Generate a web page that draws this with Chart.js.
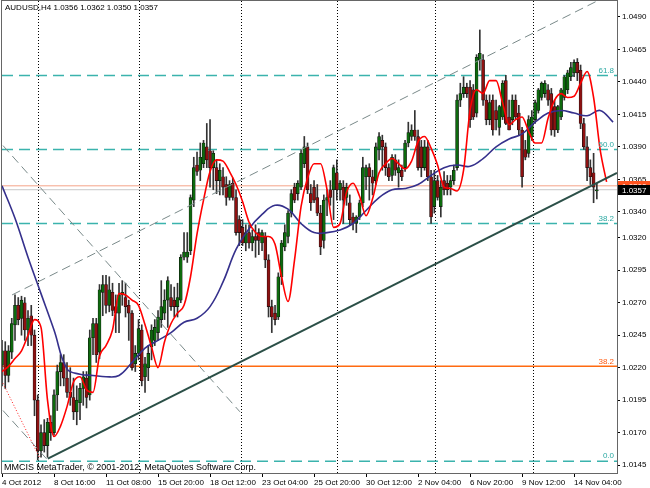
<!DOCTYPE html>
<html>
<head>
<meta charset="utf-8">
<title>AUDUSD,H4</title>
<script src="https://cdn.jsdelivr.net/npm/chart.js@4.4.1/dist/chart.umd.min.js"></script>
<style>
  html, body { margin: 0; padding: 0; background: #fff; }
  canvas { display: block; }
</style>
</head>
<body>
<canvas id="chart" width="650" height="488"></canvas>
<script>
// AUDUSD H4 bars, bar 0 = 4 Oct 2012 00:00, one value per bar
const opens = [
  1.0222, 1.0233, 1.0214, 1.0232, 1.0253, 1.0268, 1.0258, 1.0270, 1.0249, 1.0260,
  1.0245, 1.0195, 1.0156, 1.0170, 1.0160, 1.0178, 1.0170, 1.0199, 1.0217, 1.0224,
  1.0212, 1.0201, 1.0197, 1.0186, 1.0193, 1.0204, 1.0212, 1.0199, 1.0243, 1.0254,
  1.0232, 1.0278, 1.0284, 1.0268, 1.0278, 1.0267, 1.0262, 1.0276, 1.0274, 1.0268,
  1.0262, 1.0223, 1.0231, 1.0249, 1.0213, 1.0220, 1.0236, 1.0241, 1.0247, 1.0257,
  1.0262, 1.0272, 1.0274, 1.0272, 1.0267, 1.0272, 1.0305, 1.0305, 1.0310, 1.0349,
  1.0376, 1.0372, 1.0377, 1.0390, 1.0387, 1.0374, 1.0374, 1.0364, 1.0367, 1.0361,
  1.0351, 1.0362, 1.0351, 1.0334, 1.0328, 1.0316, 1.0324, 1.0316, 1.0321, 1.0324,
  1.0316, 1.0321, 1.0303, 1.0267, 1.0262, 1.0259, 1.0290, 1.0313, 1.0321, 1.0339,
  1.0359, 1.0354, 1.0359, 1.0377, 1.0390, 1.0354, 1.0359, 1.0351, 1.0339, 1.0318,
  1.0349, 1.0357, 1.0357, 1.0370, 1.0357, 1.0359, 1.0351, 1.0347, 1.0336, 1.0331,
  1.0336, 1.0347, 1.0367, 1.0374, 1.0367, 1.0364, 1.0388, 1.0395, 1.0390, 1.0374,
  1.0368, 1.0380, 1.0370, 1.0372, 1.0374, 1.0393, 1.0398, 1.0403, 1.0398, 1.0390,
  1.0374, 1.0390, 1.0367, 1.0344, 1.0364, 1.0344, 1.0364, 1.0362, 1.0359, 1.0364,
  1.0374, 1.0426, 1.0431, 1.0436, 1.0436, 1.0434, 1.0416, 1.0457, 1.0457, 1.0426,
  1.0411, 1.0426, 1.0418, 1.0405, 1.0413, 1.0441, 1.0413, 1.0411, 1.0426, 1.0416,
  1.0403, 1.0388, 1.0385, 1.0398, 1.0411, 1.0418, 1.0428, 1.0431, 1.0434, 1.0431,
  1.0421, 1.0403, 1.0413, 1.0428, 1.0434, 1.0444, 1.0447, 1.0455, 1.0449, 1.0408,
  1.0390, 1.0374, 1.0370, 1.0356
];
const highs = [
  1.0241, 1.0240, 1.0237, 1.0258, 1.0276, 1.0274, 1.0275, 1.0274, 1.0264, 1.0268,
  1.0249, 1.0199, 1.0176, 1.0180, 1.0181, 1.0183, 1.0203, 1.0222, 1.0230, 1.0230,
  1.0224, 1.0220, 1.0212, 1.0206, 1.0208, 1.0217, 1.0217, 1.0249, 1.0258, 1.0258,
  1.0284, 1.0291, 1.0291, 1.0290, 1.0285, 1.0276, 1.0285, 1.0287, 1.0285, 1.0272,
  1.0264, 1.0237, 1.0257, 1.0253, 1.0228, 1.0237, 1.0253, 1.0257, 1.0264, 1.0287,
  1.0280, 1.0290, 1.0284, 1.0282, 1.0285, 1.0307, 1.0324, 1.0324, 1.0353, 1.0382,
  1.0386, 1.0393, 1.0395, 1.0408, 1.0411, 1.0387, 1.0380, 1.0377, 1.0374, 1.0367,
  1.0364, 1.0366, 1.0357, 1.0337, 1.0334, 1.0330, 1.0330, 1.0326, 1.0330, 1.0327,
  1.0326, 1.0324, 1.0307, 1.0272, 1.0268, 1.0293, 1.0318, 1.0330, 1.0341, 1.0357,
  1.0362, 1.0364, 1.0388, 1.0398, 1.0393, 1.0361, 1.0364, 1.0361, 1.0345, 1.0353,
  1.0357, 1.0364, 1.0376, 1.0380, 1.0364, 1.0364, 1.0362, 1.0353, 1.0339, 1.0337,
  1.0349, 1.0382, 1.0376, 1.0377, 1.0372, 1.0393, 1.0401, 1.0399, 1.0393, 1.0377,
  1.0384, 1.0384, 1.0380, 1.0376, 1.0395, 1.0409, 1.0407, 1.0418, 1.0403, 1.0395,
  1.0395, 1.0395, 1.0372, 1.0372, 1.0368, 1.0364, 1.0371, 1.0368, 1.0368, 1.0376,
  1.0430, 1.0439, 1.0444, 1.0439, 1.0441, 1.0438, 1.0461, 1.0480, 1.0461, 1.0430,
  1.0430, 1.0430, 1.0426, 1.0422, 1.0441, 1.0445, 1.0426, 1.0430, 1.0430, 1.0422,
  1.0405, 1.0395, 1.0414, 1.0418, 1.0426, 1.0435, 1.0440, 1.0441, 1.0438, 1.0435,
  1.0426, 1.0422, 1.0435, 1.0445, 1.0449, 1.0455, 1.0457, 1.0458, 1.0453, 1.0412,
  1.0398, 1.0380, 1.0385, 1.0362
];
const lows = [
  1.0206, 1.0204, 1.0209, 1.0227, 1.0241, 1.0253, 1.0245, 1.0241, 1.0237, 1.0237,
  1.0183, 1.0149, 1.0151, 1.0155, 1.0151, 1.0164, 1.0168, 1.0187, 1.0206, 1.0206,
  1.0197, 1.0191, 1.0180, 1.0176, 1.0180, 1.0191, 1.0189, 1.0195, 1.0230, 1.0224,
  1.0227, 1.0260, 1.0262, 1.0263, 1.0260, 1.0247, 1.0247, 1.0268, 1.0259, 1.0241,
  1.0218, 1.0217, 1.0226, 1.0206, 1.0201, 1.0210, 1.0226, 1.0237, 1.0241, 1.0251,
  1.0257, 1.0251, 1.0264, 1.0259, 1.0259, 1.0270, 1.0303, 1.0301, 1.0307, 1.0344,
  1.0368, 1.0364, 1.0374, 1.0374, 1.0359, 1.0357, 1.0354, 1.0353, 1.0353, 1.0345,
  1.0349, 1.0349, 1.0322, 1.0314, 1.0314, 1.0310, 1.0312, 1.0310, 1.0305, 1.0307,
  1.0310, 1.0297, 1.0259, 1.0247, 1.0253, 1.0257, 1.0284, 1.0310, 1.0316, 1.0336,
  1.0347, 1.0349, 1.0357, 1.0374, 1.0354, 1.0341, 1.0347, 1.0337, 1.0307, 1.0312,
  1.0337, 1.0345, 1.0334, 1.0349, 1.0349, 1.0331, 1.0345, 1.0330, 1.0326, 1.0324,
  1.0334, 1.0344, 1.0357, 1.0349, 1.0353, 1.0361, 1.0380, 1.0372, 1.0368, 1.0364,
  1.0364, 1.0368, 1.0359, 1.0364, 1.0371, 1.0390, 1.0395, 1.0395, 1.0372, 1.0367,
  1.0372, 1.0364, 1.0331, 1.0339, 1.0349, 1.0336, 1.0353, 1.0353, 1.0353, 1.0361,
  1.0372, 1.0421, 1.0428, 1.0428, 1.0405, 1.0411, 1.0413, 1.0449, 1.0422, 1.0407,
  1.0407, 1.0399, 1.0403, 1.0399, 1.0411, 1.0407, 1.0403, 1.0407, 1.0411, 1.0399,
  1.0359, 1.0380, 1.0382, 1.0395, 1.0408, 1.0416, 1.0426, 1.0428, 1.0422, 1.0399,
  1.0398, 1.0401, 1.0411, 1.0426, 1.0431, 1.0441, 1.0444, 1.0441, 1.0404, 1.0388,
  1.0364, 1.0361, 1.0347, 1.0350
];
const closes = [
  1.0233, 1.0214, 1.0233, 1.0254, 1.0268, 1.0257, 1.0272, 1.0249, 1.0258, 1.0245,
  1.0195, 1.0156, 1.0170, 1.0160, 1.0178, 1.0170, 1.0199, 1.0217, 1.0224, 1.0212,
  1.0201, 1.0197, 1.0186, 1.0195, 1.0204, 1.0213, 1.0197, 1.0243, 1.0254, 1.0230,
  1.0280, 1.0284, 1.0268, 1.0280, 1.0264, 1.0262, 1.0276, 1.0278, 1.0267, 1.0262,
  1.0220, 1.0231, 1.0250, 1.0210, 1.0223, 1.0231, 1.0249, 1.0251, 1.0259, 1.0267,
  1.0272, 1.0287, 1.0267, 1.0267, 1.0274, 1.0305, 1.0309, 1.0309, 1.0351, 1.0374,
  1.0371, 1.0382, 1.0393, 1.0380, 1.0374, 1.0385, 1.0364, 1.0372, 1.0359, 1.0351,
  1.0361, 1.0351, 1.0324, 1.0324, 1.0316, 1.0324, 1.0316, 1.0321, 1.0318, 1.0318,
  1.0324, 1.0303, 1.0267, 1.0259, 1.0257, 1.0290, 1.0316, 1.0324, 1.0339, 1.0354,
  1.0349, 1.0362, 1.0385, 1.0390, 1.0357, 1.0347, 1.0349, 1.0339, 1.0313, 1.0349,
  1.0351, 1.0351, 1.0374, 1.0357, 1.0362, 1.0349, 1.0359, 1.0334, 1.0331, 1.0336,
  1.0347, 1.0374, 1.0374, 1.0367, 1.0362, 1.0390, 1.0398, 1.0390, 1.0374, 1.0367,
  1.0382, 1.0372, 1.0374, 1.0367, 1.0393, 1.0401, 1.0403, 1.0398, 1.0374, 1.0374,
  1.0390, 1.0367, 1.0336, 1.0364, 1.0351, 1.0359, 1.0357, 1.0357, 1.0364, 1.0372,
  1.0426, 1.0431, 1.0436, 1.0431, 1.0411, 1.0413, 1.0459, 1.0462, 1.0426, 1.0411,
  1.0424, 1.0403, 1.0411, 1.0421, 1.0439, 1.0408, 1.0403, 1.0426, 1.0413, 1.0403,
  1.0367, 1.0382, 1.0411, 1.0413, 1.0424, 1.0434, 1.0439, 1.0439, 1.0426, 1.0403,
  1.0403, 1.0421, 1.0434, 1.0444, 1.0447, 1.0451, 1.0455, 1.0447, 1.0408, 1.0390,
  1.0374, 1.0367, 1.0359, 1.0357
];

// fast MA (red), read every 2 bars from bar 0; slow MA (blue), every 4 bars
const fastMa = [
  1.0217, 1.0221, 1.0227, 1.0233, 1.0245, 1.0257, 1.0251, 1.0195, 1.0167, 1.0175,
  1.0190, 1.0209, 1.0213, 1.0203, 1.0201, 1.0229, 1.0237, 1.0249, 1.0277, 1.0276,
  1.0272, 1.0268, 1.0253, 1.0236, 1.0220, 1.0240, 1.0254, 1.0262, 1.0268, 1.0290,
  1.0323, 1.0349, 1.0371, 1.0380, 1.0379, 1.0371, 1.0361, 1.0348, 1.0332, 1.0324,
  1.0321, 1.0321, 1.0315, 1.0290, 1.0271, 1.0303, 1.0344, 1.0366, 1.0377, 1.0377,
  1.0357, 1.0328, 1.0331, 1.0355, 1.0362, 1.0352, 1.0337, 1.0350, 1.0370, 1.0377,
  1.0381, 1.0377, 1.0373, 1.0379, 1.0394, 1.0398, 1.0389, 1.0376, 1.0359, 1.0358,
  1.0356, 1.0372, 1.0418, 1.0434, 1.0431, 1.0441, 1.0441, 1.0424, 1.0407, 1.0411,
  1.0413, 1.0402, 1.0393, 1.0393, 1.0412, 1.0426, 1.0431, 1.0428, 1.0429, 1.0439,
  1.0448, 1.0428, 1.0388, 1.0363
];
const slowMa = [
  1.0360, 1.0335, 1.0305, 1.0277, 1.0249, 1.0219, 1.0215, 1.0214, 1.0213, 1.0214,
  1.0224, 1.0235, 1.0241, 1.0247, 1.0255, 1.0258, 1.0267, 1.0286, 1.0311, 1.0327,
  1.0338, 1.0345, 1.0342, 1.0331, 1.0324, 1.0324, 1.0326, 1.0331, 1.0341, 1.0351,
  1.0357, 1.0358, 1.0361, 1.0368, 1.0374, 1.0376, 1.0375, 1.0381, 1.0390, 1.0396,
  1.0400, 1.0409, 1.0416, 1.0418, 1.0416, 1.0414, 1.0418, 1.0409
];

const xTickBars = [0, 16, 32, 48, 64, 80, 96, 112, 128, 144, 160, 176];
const xTickLabels = ['4 Oct 2012', '8 Oct 16:00', '11 Oct 08:00', '15 Oct 20:00', '18 Oct 12:00', '23 Oct 04:00',
  '25 Oct 20:00', '30 Oct 12:00', '2 Nov 04:00', '6 Nov 20:00', '9 Nov 12:00', '14 Nov 04:00'];
const yTickValues = [1.0490, 1.0465, 1.0440, 1.0415, 1.0390, 1.0365, 1.0340, 1.0320, 1.0295,
  1.0270, 1.0245, 1.0220, 1.0195, 1.0170, 1.0145];

// period separators, in bars
const separators = [11.1, 42.2, 73.5, 103.1, 133.2, 163.4];

// fibo levels and horizontal lines
const fiboLevels = [1.0148, 1.0331, 1.0388, 1.0445];
const fiboNames = ['0.0', '38.2', '50.0', '61.8'];
const orangeLevel = 1.0221;
const orangeName = '38.2';
const hLinePrice = 1.0360;
const bidPrice = 1.0357;

// trend lines as [bar, price] end points
const trendLine = [[14.1, 1.0150], [189.2, 1.0370]];
const channelLine = [[3.1, 1.0276], [189.2, 1.0510]];
const fallLine = [[0.3, 1.0391], [73.2, 1.0186]];
const fallLine2 = [[0.3, 1.0187], [14, 1.0149]];
const redDotLine = [[0.3, 1.0208], [11.7, 1.0150]];

const X_MAX = 189.2;
const FONT = 'Liberation Sans, Arial, sans-serif';

const bars = opens.map((o, i) => i);
const bodyColors = bars.map(i => closes[i] >= opens[i] ? '#0d6a0d' : '#8e1111');

function pts(arr) { return arr.map(p => ({x: p[0], y: p[1]})); }
function level(v) { return [{x: 0, y: v}, {x: X_MAX, y: v}]; }
function lineSet(data, color, width, dash, order) {
  return {type: 'line', data: data, borderColor: color, borderWidth: width, borderDash: dash,
    pointRadius: 0, fill: false, order: order};
}

const datasets = [
  {type: 'bar', data: bars.map(i => ({x: i, y: [lows[i], highs[i]]})), backgroundColor: '#333',
    barThickness: 1, grouped: false, order: 6},
  {type: 'bar', data: bars.map(i => ({x: i, y: [opens[i], closes[i]]})), backgroundColor: bodyColors,
    borderColor: '#111', borderWidth: 0.6, borderSkipped: false, barThickness: 3, grouped: false, order: 5},
  Object.assign(lineSet(slowMa.map((v, k) => ({x: k * 4, y: v})), '#35308c', 1.6, [], 3), {tension: 0.4}),
  Object.assign(lineSet(fastMa.map((v, k) => ({x: k * 2, y: v})), '#ff0000', 1.6, [], 2), {cubicInterpolationMode: 'monotone'}),
  lineSet(pts(trendLine), '#2b4f47', 2, [], 1),
  lineSet(pts(channelLine), '#7a8a8a', 1, [9, 5], 1),
  lineSet(pts(fallLine), '#7a8a8a', 1, [9, 5], 1),
  lineSet(pts(fallLine2), '#7a8a8a', 1, [9, 5], 1),
  lineSet(pts(redDotLine), '#ff2020', 1, [1, 2], 1),
  lineSet(level(orangeLevel), '#ff6a10', 1.5, [], 7),
  lineSet(level(hLinePrice), '#f5a488', 1, [], 7),
  lineSet(level(bidPrice), '#c8c8c8', 1, [], 8)
];
fiboLevels.forEach(v => datasets.push(lineSet(level(v), '#3bb3ad', 1.5, [11, 6], 7)));

const terminalPlugin = {
  id: 'terminal',
  beforeDraw(chart) {
    const ctx = chart.ctx;
    ctx.save();
    ctx.fillStyle = '#fff';
    ctx.fillRect(0, 0, chart.width, chart.height);
    ctx.restore();
  },
  beforeDatasetsDraw(chart) {
    const ctx = chart.ctx, a = chart.chartArea, xs = chart.scales.x;
    ctx.save();
    ctx.strokeStyle = '#000';
    ctx.lineWidth = 1;
    ctx.setLineDash([1, 2]);
    separators.forEach(b => {
      const x = Math.round(xs.getPixelForValue(b)) + 0.5;
      ctx.beginPath();
      ctx.moveTo(x, a.top);
      ctx.lineTo(x, a.bottom);
      ctx.stroke();
    });
    ctx.restore();
  },
  afterDatasetsDraw(chart) {
    const ctx = chart.ctx, a = chart.chartArea, ys = chart.scales.y;
    ctx.save();
    ctx.font = '8px ' + FONT;
    ctx.textAlign = 'right';
    ctx.textBaseline = 'bottom';
    ctx.fillStyle = '#2aa8a2';
    fiboLevels.forEach((v, i) => ctx.fillText(fiboNames[i], a.right - 3, ys.getPixelForValue(v) - 1));
    ctx.fillStyle = '#ff5a10';
    ctx.fillText(orangeName, a.right - 3, ys.getPixelForValue(orangeLevel) - 1);
    ctx.restore();
  },
  afterDraw(chart) {
    const ctx = chart.ctx, a = chart.chartArea, ys = chart.scales.y;
    ctx.save();
    // frame
    ctx.strokeStyle = '#666';
    ctx.lineWidth = 1;
    ctx.strokeRect(a.left - 0.5, a.top - 0.5, a.right - a.left + 1, a.bottom - a.top + 1);
    // price boxes on the scale
    ctx.font = '8px ' + FONT;
    ctx.textBaseline = 'middle';
    ctx.textAlign = 'left';
    const boxes = [[hLinePrice, '#ff5420'], [bidPrice, '#000']];
    boxes.forEach(b => {
      const y = Math.round(ys.getPixelForValue(b[0]));
      ctx.fillStyle = b[1];
      ctx.fillRect(a.right + 1, y - 5, chart.width - a.right - 1, 10);
      ctx.fillStyle = '#fff';
      ctx.fillText(b[0].toFixed(4), a.right + 5, y + 0.5);
    });
    // texts
    ctx.fillStyle = '#000';
    ctx.font = '8px ' + FONT;
    ctx.fillText('AUDUSD,H4 1.0356 1.0362 1.0350 1.0357', a.left + 3, 8);
    ctx.font = '9px ' + FONT;
    ctx.fillText('MMCIS MetaTrader, \u00a9 2001-2012, MetaQuotes Software Corp.', a.left + 2, a.bottom - 5);
    ctx.restore();
  }
};

Chart.defaults.font.family = FONT;
Chart.defaults.font.size = 8;
Chart.defaults.color = '#000';

new Chart(document.getElementById('chart'), {
  type: 'bar',
  data: {datasets: datasets},
  options: {
    responsive: false,
    animation: false,
    events: [],
    layout: {padding: {left: 2, top: 1, right: 0, bottom: 0}},
    plugins: {legend: {display: false}, tooltip: {enabled: false}},
    scales: {
      x: {
        type: 'linear',
        min: 0,
        max: X_MAX,
        offset: false,
        grid: {display: true, drawOnChartArea: false, drawTicks: true, tickLength: 4, color: '#000', offset: false},
        border: {display: true, color: '#444'},
        ticks: {
          align: 'start', maxRotation: 0, autoSkip: false, padding: 1,
          callback: (v, i) => xTickLabels[i]
        },
        afterBuildTicks: axis => { axis.ticks = xTickBars.map(v => ({value: v})); },
        afterFit: axis => {
          axis.height = 15;
          axis.paddingLeft = 0; axis.paddingRight = 0; axis.paddingTop = 0; axis.paddingBottom = 0;
        }
      },
      y: {
        type: 'linear',
        position: 'right',
        min: 1.01389,
        max: 1.05023,
        grid: {display: true, drawOnChartArea: false, drawTicks: true, tickLength: 3, color: '#000'},
        border: {display: true, color: '#444'},
        ticks: {padding: 2, callback: v => v.toFixed(4)},
        afterBuildTicks: axis => { axis.ticks = yTickValues.map(v => ({value: v})); },
        afterFit: axis => {
          axis.width = 33;
          axis.paddingLeft = 0; axis.paddingRight = 0; axis.paddingTop = 0; axis.paddingBottom = 0;
        }
      }
    }
  },
  plugins: [terminalPlugin]
});
</script>
</body>
</html>
